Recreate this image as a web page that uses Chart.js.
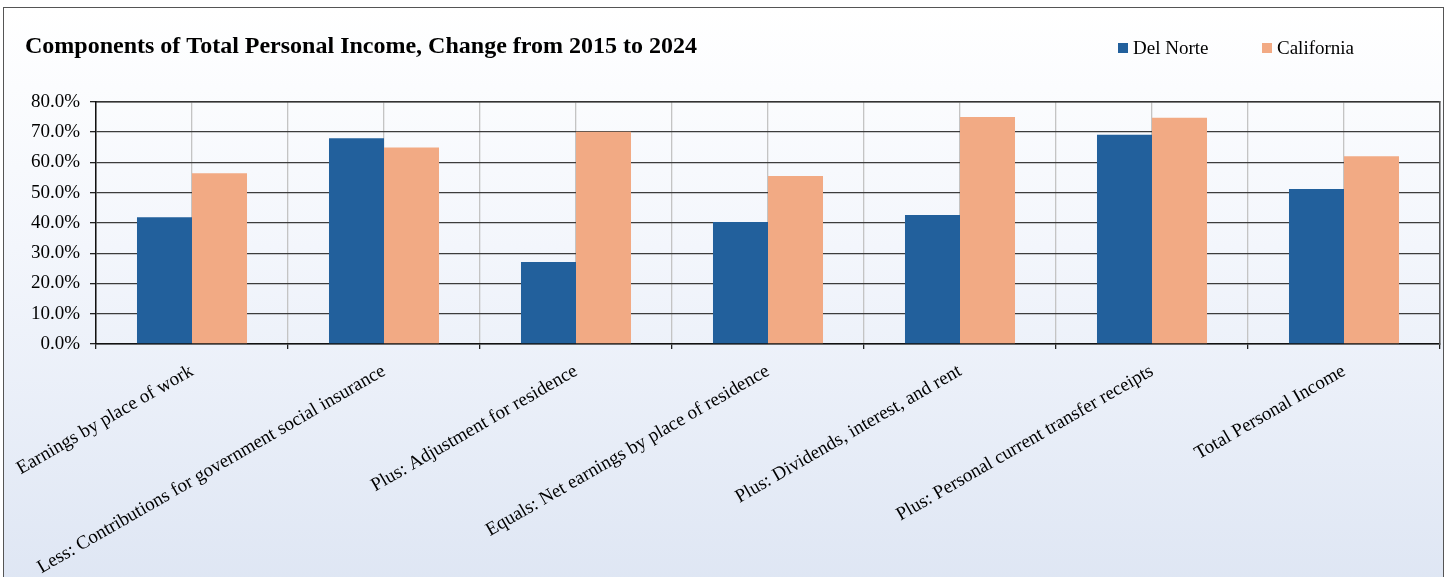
<!DOCTYPE html>
<html>
<head>
<meta charset="utf-8">
<script src="https://cdn.jsdelivr.net/npm/chart.js@4"></script>
<style>
  html, body { margin: 0; padding: 0; }
  body {
    width: 1447px; height: 577px; overflow: hidden; position: relative;
    background: #ffffff;
    font-family: "Liberation Serif", "DejaVu Serif", serif;
  }
  #cadre {
    position: absolute; left: 3px; top: 7px; width: 1439px; height: 600px;
    border: 1.5px solid #555;
    background: linear-gradient(to bottom, #ffffff 0%, #f3f6fc 40%, #dde5f3 100%);
  }
  #zone { position: absolute; left: 0; top: 0; width: 1447px; height: 577px; }
  .legende { position: absolute; top: 36px; font-size: 19px; color: #000; line-height: 24px; white-space: nowrap; }
  .legende span.carre { display: inline-block; width: 10px; height: 10px; margin-right: 5px; vertical-align: 1px; }
</style>
</head>
<body>
<div id="cadre"></div>
<div id="zone"><canvas id="grafico" width="1447" height="577"></canvas></div>
<div class="legende" style="left:1118px"><span class="carre" style="background:#22609c"></span>Del Norte</div>
<div class="legende" style="left:1262px"><span class="carre" style="background:#f2aa84"></span>California</div>
<script>
// Componentes da renda pessoal, variação 2015 -> 2024 (em %)
const categorias = [
  "Earnings by place of work",
  "Less: Contributions for government social insurance",
  "Plus: Adjustment for residence",
  "Equals: Net earnings by place of residence",
  "Plus: Dividends, interest, and rent",
  "Plus: Personal current transfer receipts",
  "Total Personal Income"
];
const delNorte = [41.9, 68.0, 27.1, 40.3, 42.6, 69.1, 51.2];
const california = [56.4, 64.9, 70.1, 55.5, 75.0, 74.7, 62.0];
const ticksY = [0, 10, 20, 30, 40, 50, 60, 70, 80];

const fonteSerif = "'Liberation Serif', 'Times New Roman', serif";
const corGradeH = "#3c3c3c";
const corGradeV = "#c4c4c4";

new Chart(document.getElementById("grafico"), {
  type: "bar",
  data: {
    labels: categorias,
    datasets: [
      { label: "Del Norte", data: delNorte, backgroundColor: "#22609c",
        categoryPercentage: 0.573, barPercentage: 1.0 },
      { label: "California", data: california, backgroundColor: "#f2aa84",
        categoryPercentage: 0.573, barPercentage: 1.0 }
    ]
  },
  options: {
    responsive: false,
    animation: false,
    layout: { padding: { left: 25, right: 7, top: 0, bottom: 0 } },
    plugins: {
      legend: { display: false },
      tooltip: { enabled: false },
      title: {
        display: true,
        text: "Components of Total Personal Income, Change from 2015 to 2024",
        align: "start",
        color: "#000",
        font: { family: fonteSerif, size: 24, weight: "bold", lineHeight: 1.2 },
        padding: { top: 32, bottom: 41 }
      }
    },
    scales: {
      x: {
        position: "bottom",
        offset: true,
        grid: { offset: true, color: corGradeV, lineWidth: 1.3, tickLength: 5, tickColor: "#222" },
        border: { color: "#111", width: 1.5 },
        ticks: {
          color: "#000",
          font: { family: fonteSerif, size: 19 },
          minRotation: 30, maxRotation: 30,
          autoSkip: false,
          padding: 11
        },
        afterFit: s => { s.height = 233; s.paddingLeft = 0; s.paddingRight = 0; }
      },
      xTopo: {
        type: "category",
        labels: categorias,
        position: "top",
        offset: true,
        grid: { offset: false, color: corGradeV, lineWidth: 1.3, drawTicks: false },
        border: { color: "#333", width: 1.5 },
        ticks: { display: false },
        afterFit: s => { s.height = 0; s.paddingLeft = 0; s.paddingRight = 0; }
      },
      y: {
        position: "left",
        min: 0, max: 80,
        afterBuildTicks: s => { s.ticks = ticksY.map(v => ({ value: v })); },
        grid: { color: corGradeH, lineWidth: 1.3, tickLength: 6, tickColor: "#222" },
        border: { color: "#111", width: 1.5 },
        ticks: {
          color: "#000",
          font: { family: fonteSerif, size: 19 },
          padding: 10,
          callback: v => v.toFixed(1) + "%"
        },
        afterFit: s => { s.width = 71; }
      },
      yDireita: {
        position: "right",
        min: 0, max: 80,
        grid: { display: false, drawTicks: false },
        border: { color: "#555", width: 1.5 },
        ticks: { display: false },
        afterFit: s => { s.width = 0; }
      }
    }
  }
});
</script>
</body>
</html>
